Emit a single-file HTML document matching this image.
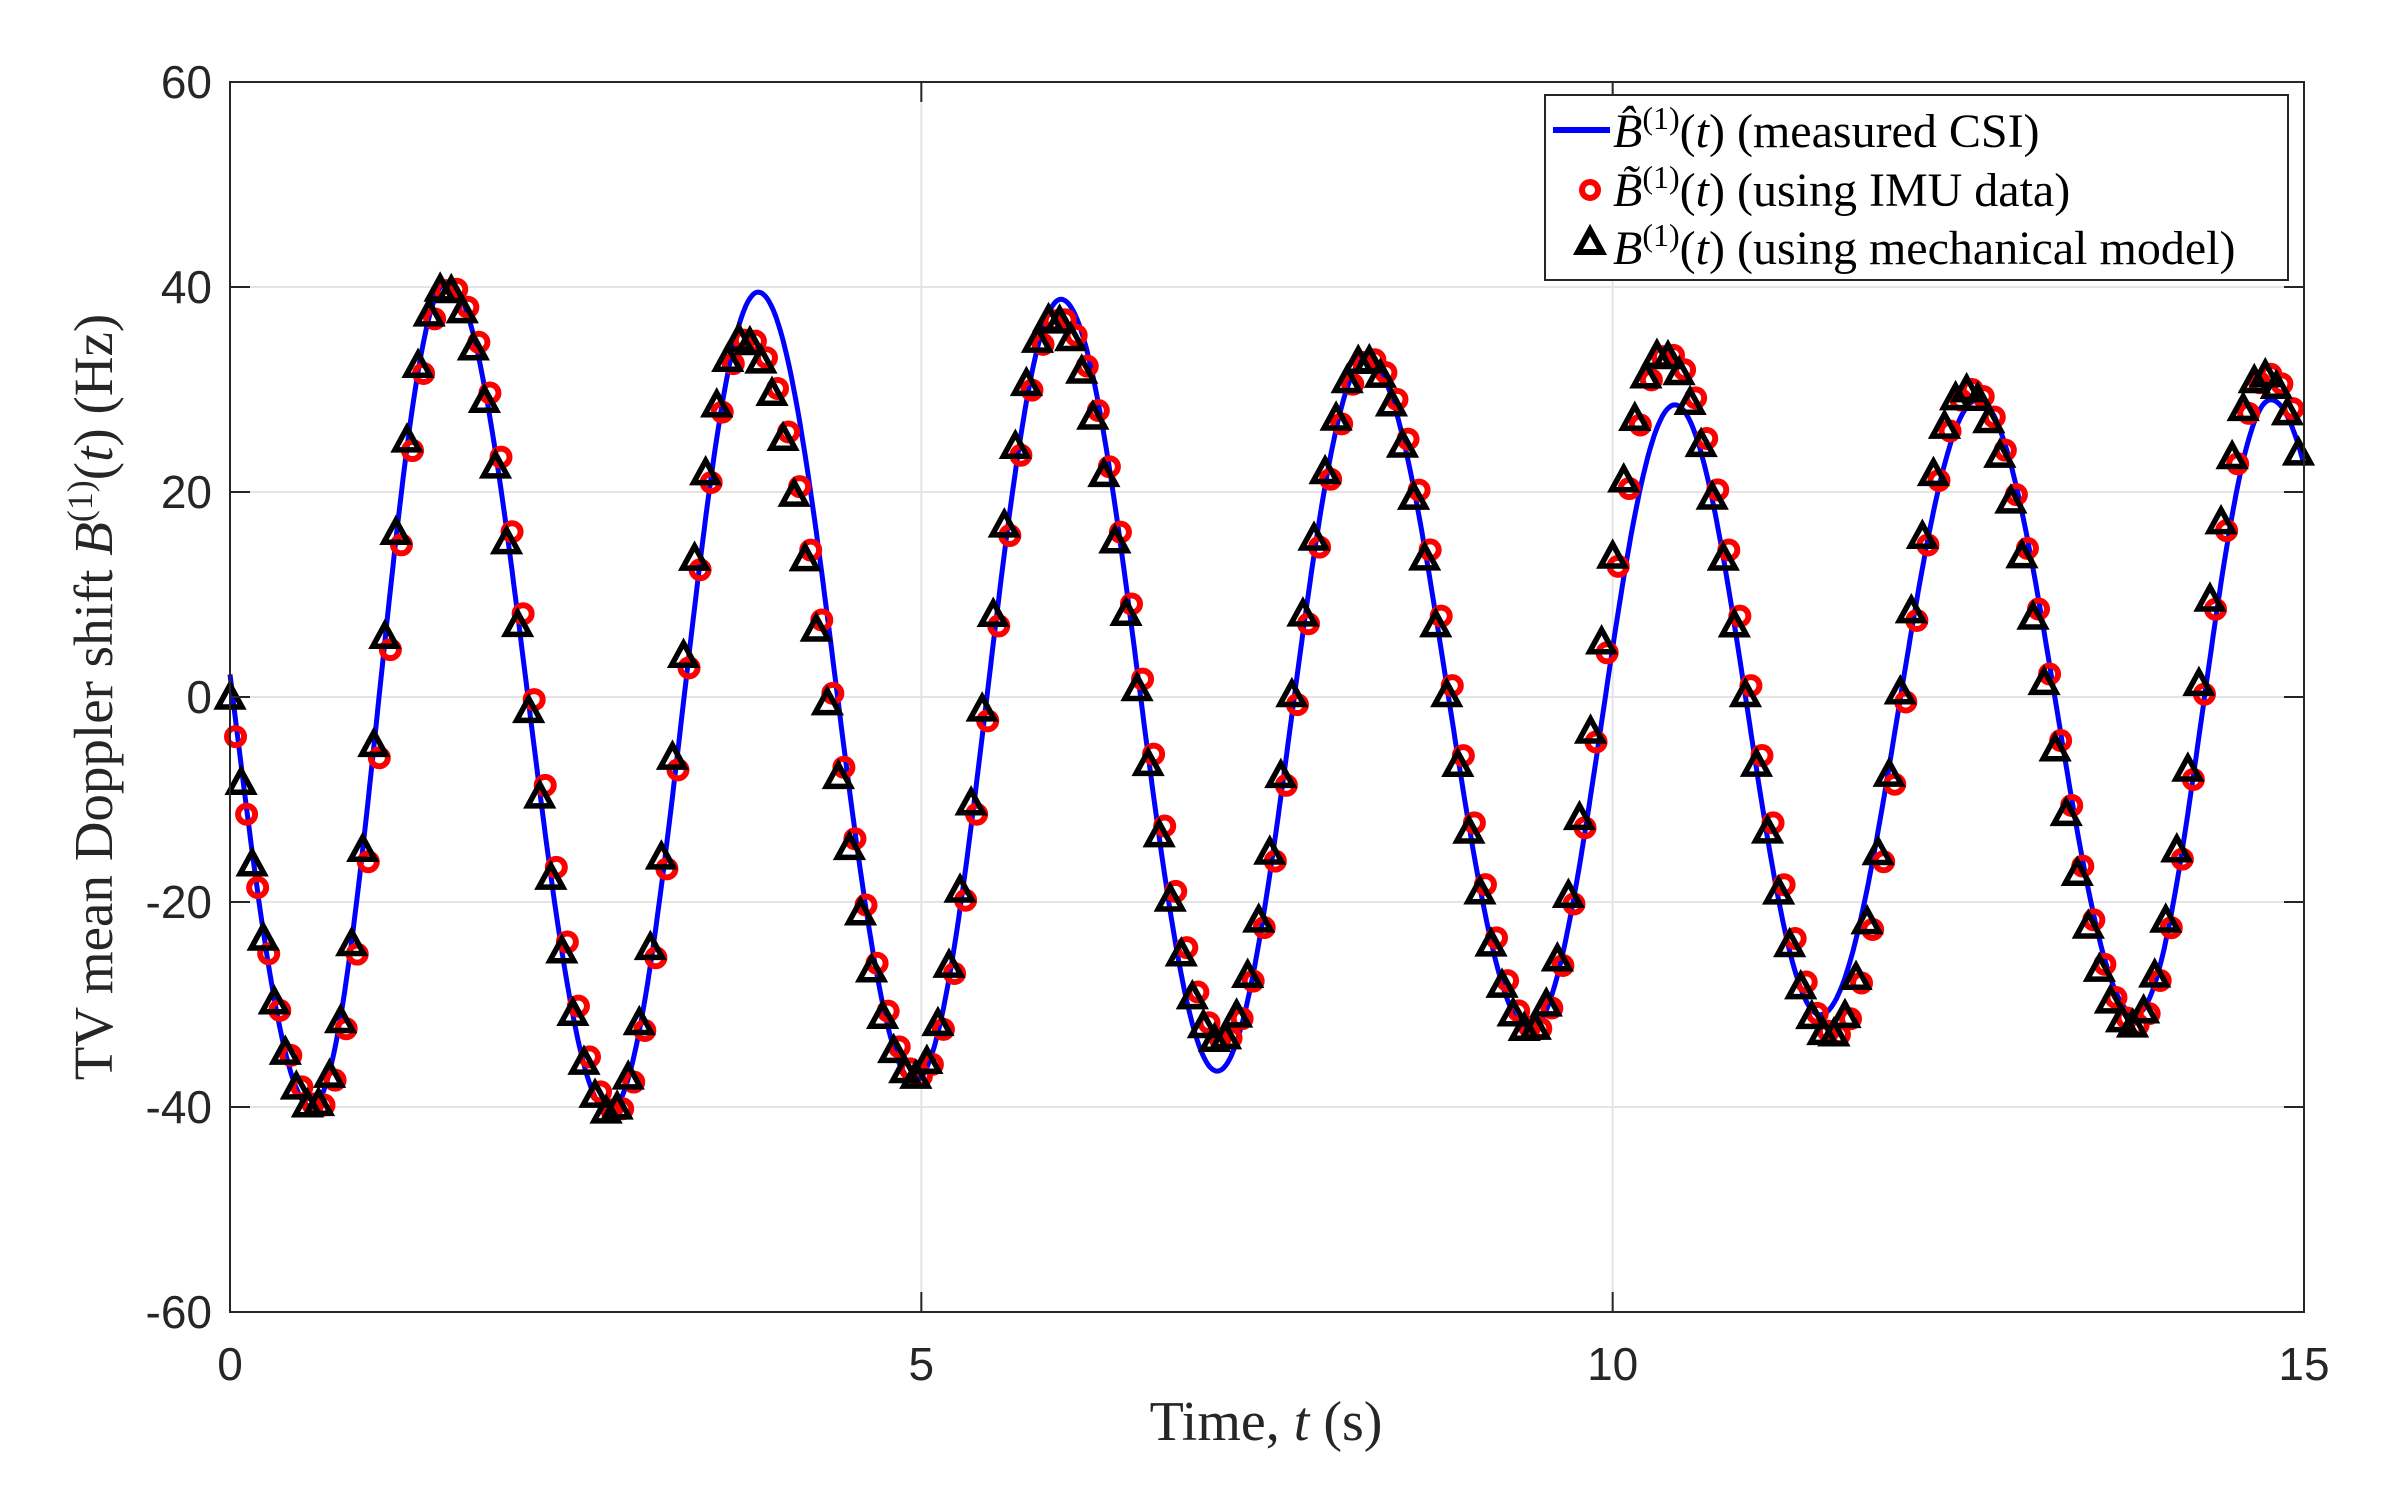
<!DOCTYPE html>
<html><head><meta charset="utf-8"><style>
html,body{margin:0;padding:0;background:#fff;}
svg{display:block;}
</style></head><body>
<svg id="s" width="2386" height="1499" viewBox="0 0 2386 1499" xmlns="http://www.w3.org/2000/svg">
<rect width="2386" height="1499" fill="#fff"/>
<g id="grid" stroke="#e4e4e4" stroke-width="2"></g>
<g id="data"></g>
<rect x="230" y="82" width="2074" height="1230" fill="none" stroke="#262626" stroke-width="2"/>
<g id="ticks" stroke="#262626" stroke-width="2"></g>
<g id="labels" font-family="Liberation Sans, sans-serif" font-size="46" fill="#262626"></g>
<text x="1266" y="1440" text-anchor="middle" font-family="Liberation Serif, serif" font-size="56" fill="#262626">Time, <tspan font-style="italic">t</tspan> (s)</text>
<text transform="translate(112,697) rotate(-90)" text-anchor="middle" font-family="Liberation Serif, serif" font-size="55" fill="#262626">TV mean Doppler shift <tspan font-style="italic">B</tspan><tspan baseline-shift="super" font-size="36">(1)</tspan>(<tspan font-style="italic">t</tspan>) (Hz)</text>
<g>
<rect x="1545" y="95" width="743" height="185" fill="#fff" stroke="#262626" stroke-width="2"/>
<line x1="1553" y1="130" x2="1610" y2="130" stroke="#0000ff" stroke-width="6"/>
<circle cx="1590" cy="190" r="8" fill="none" stroke="#ff0000" stroke-width="6"/>
<polygon points="1590,230 1578,252 1602,252" fill="none" stroke="#000" stroke-width="6"/>
<g font-family="Liberation Serif, serif" font-size="48" fill="#000">
<text x="1613" y="147"><tspan font-style="italic">B̂</tspan><tspan baseline-shift="super" font-size="32">(1)</tspan>(<tspan font-style="italic">t</tspan>) (measured CSI)</text>
<text x="1613" y="206"><tspan font-style="italic">B̃</tspan><tspan baseline-shift="super" font-size="32">(1)</tspan>(<tspan font-style="italic">t</tspan>) (using IMU data)</text>
<text x="1613" y="264"><tspan font-style="italic">B</tspan><tspan baseline-shift="super" font-size="32">(1)</tspan>(<tspan font-style="italic">t</tspan>) (using mechanical model)</text>
</g>
</g>
</svg>
<script>
const NS="http://www.w3.org/2000/svg";
const X=t=>230+t*2074/15, Y=v=>697-v*1230/120;
function el(p,n,a){const e=document.createElementNS(NS,n);for(const k in a)e.setAttribute(k,a[k]);document.getElementById(p).appendChild(e);return e;}
for(let v=-40;v<=40;v+=20)el("grid","line",{x1:230,x2:2304,y1:Y(v),y2:Y(v)});
for(const t of [5,10])el("grid","line",{x1:X(t),x2:X(t),y1:82,y2:1312});
for(let v=-60;v<=60;v+=20){el("ticks","line",{x1:230,x2:250,y1:Y(v),y2:Y(v)});el("ticks","line",{x1:2304,x2:2284,y1:Y(v),y2:Y(v)});
 const t=el("labels","text",{x:212,y:Y(v)+16,"text-anchor":"end"});t.textContent=v;}
for(const t of [0,5,10,15]){el("ticks","line",{x1:X(t),x2:X(t),y1:1312,y2:1292});el("ticks","line",{x1:X(t),x2:X(t),y1:82,y2:102});
 const e=el("labels","text",{x:X(t),y:1380,"text-anchor":"middle"});e.textContent=t;}
function interp(ext,t){for(let i=0;i<ext.length-1;i++){const[a,va]=ext[i],[b,vb]=ext[i+1];if(t>=a&&t<=b){const f=(t-a)/(b-a);return (va+vb)/2+(va-vb)/2*Math.cos(Math.PI*f);}}return 0;}
const blue=[[-0.55,40],[0.59,-40],[1.57,40.5],[2.74,-40.5],[3.82,39.5],[4.95,-37.5],[6.01,38.8],[7.14,-36.5],[8.22,33],[9.40,-32.5],[10.45,28.5],[11.50,-31],[12.64,29],[13.78,-31],[14.76,29],[15.9,-31]];
const red=[[-0.65,40],[0.65,-40],[1.6,40],[2.8,-40.5],[3.75,35],[5.0,-37],[6.0,37],[7.2,-33.5],[8.25,33],[9.45,-32.5],[10.4,33.5],[11.62,-33],[12.6,30],[13.8,-32],[14.75,31.5],[15.9,-32]];
const blk=[[-0.6,40]].concat(red.slice(1).map(([t,v])=>[t-0.05,v]));
let d="";for(let t=0;t<=15.0001;t+=0.01){d+=(d?"L":"M")+X(t).toFixed(1)+" "+Y(interp(blue,t)).toFixed(1);}
el("data","path",{d:d,fill:"none",stroke:"#0000ff","stroke-width":5});
for(let t=0.04;t<=15;t+=0.08){el("data","circle",{cx:X(t),cy:Y(interp(red,t)),r:8.5,fill:"none",stroke:"#ff0000","stroke-width":6});}
for(let t=0.0;t<=15;t+=0.08){const x=X(t),y=Y(interp(blk,t));el("data","polygon",{points:`${x},${y-12} ${x-12},${y+10} ${x+12},${y+10}`,fill:"none",stroke:"#000","stroke-width":5.5});}
</script>
</body></html>
